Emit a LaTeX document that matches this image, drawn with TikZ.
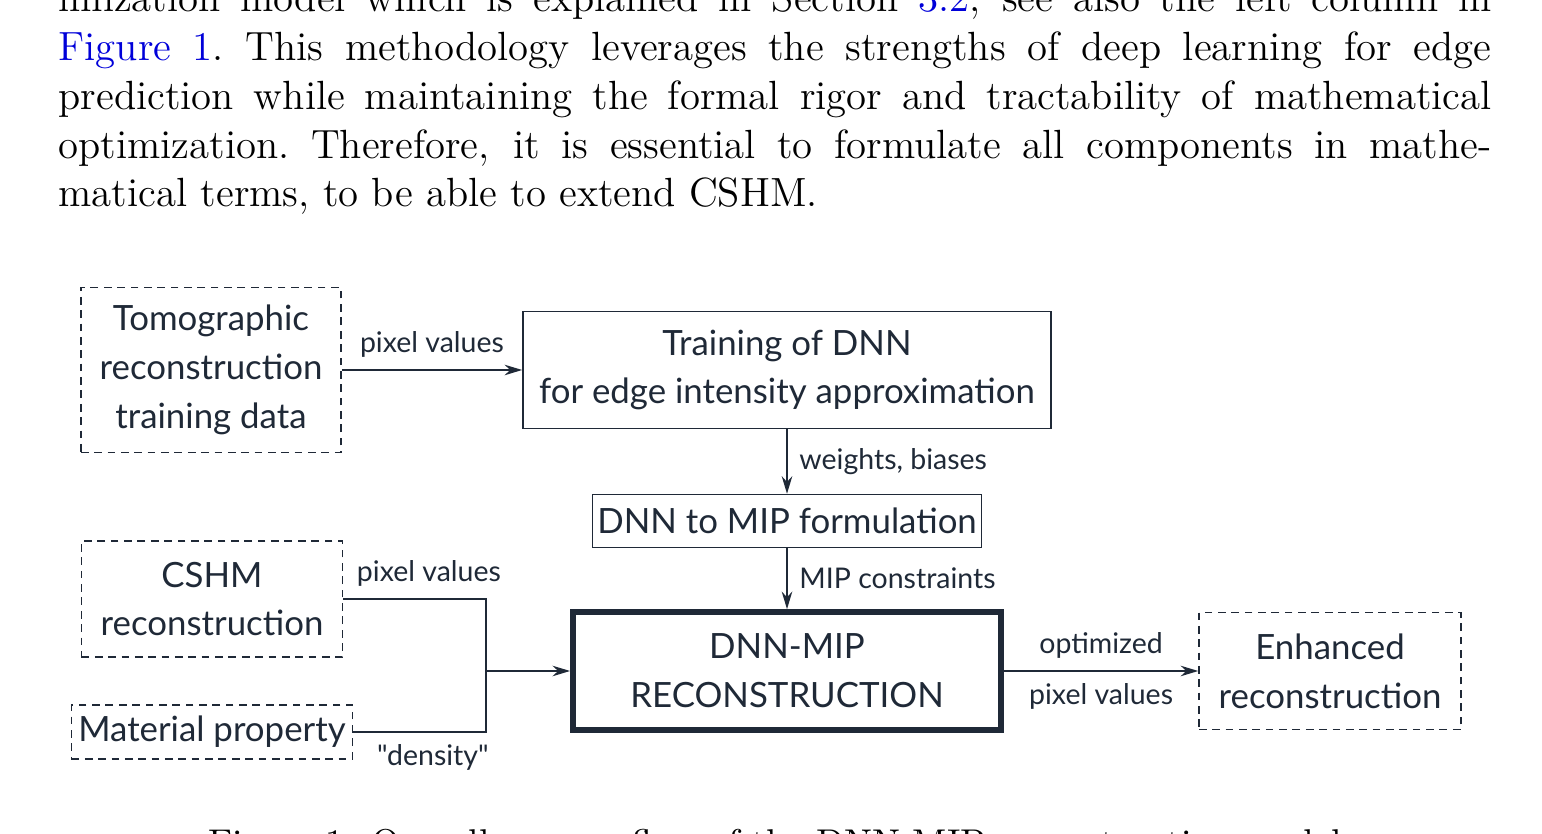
\documentclass[tikz,border=0pt]{standalone}
\usepackage{fontspec}
\newfontfamily\lato{Lato}
\usetikzlibrary{arrows.meta}
\definecolor{ink}{HTML}{1F2937}
\definecolor{linkblue}{rgb}{0,0,0.85}
\begin{document}
\begin{tikzpicture}[x=0.01cm,y=-0.01cm,
    font=\lato\fontsize{9.9}{13.9}\selectfont, text=ink,
    inbox/.style={draw=ink, dash pattern=on 2.2pt off 1.6pt, align=center, inner sep=0pt},
    box/.style={draw=ink, align=center, inner sep=0pt},
    lbl/.style={font=\lato\fontsize{8.1}{10}\selectfont},
    flow/.style={draw=ink, -{Stealth[length=5pt,width=3pt]}}]
  \useasboundingbox (0,0) rectangle (1542,834);
  \clip (0,0) rectangle (1542,834);
  % Text around the figure
  \node[anchor=north west, inner sep=0pt, text width=14.32cm, align=justify,
        font=\rmfamily\fontsize{11.6}{13.9}\selectfont, text=black] (para) at (58,-18)
    {imization model which is explained in Section \textcolor{linkblue}{3.2}, see also the left column in\linebreak
     \textcolor{linkblue}{Figure 1}.\ This methodology leverages the strengths of deep learning for edge\linebreak
     prediction while maintaining the formal rigor and tractability of mathematical\linebreak
     optimization.\ Therefore, it is essential to formulate all components in mathe-\linebreak
     matical terms, to be able to extend CSHM.};
  \node[font=\rmfamily\fontsize{10.6}{13.9}\selectfont, text=black] (cap) at (780,846)
    {Figure 1: Overall process flow of the DNN-MIP reconstruction model.};
  % Boxes
  \node[inbox, minimum width=2.60cm, minimum height=1.65cm] (tomo) at (211,370)
    {Tomographic\\reconstruction\\training data};
  \node[box, minimum width=5.28cm, minimum height=1.17cm] (train) at (787,370)
    {Training of DNN\\for edge intensity approximation};
  \node[box, minimum width=3.89cm, minimum height=0.53cm] (form) at (787,521)
    {DNN to MIP formulation};
  \node[inbox, minimum width=2.61cm, minimum height=1.16cm] (cshm) at (212,599)
    {CSHM\\reconstruction};
  \node[inbox, minimum width=2.81cm, minimum height=0.54cm] (mat) at (212,732)
    {Material property};
  \node[box, line width=1.6pt, minimum width=4.28cm, minimum height=1.18cm] (mip) at (787,671)
    {DNN-MIP\\RECONSTRUCTION};
  \node[inbox, minimum width=2.62cm, minimum height=1.17cm] (enh) at (1330,671)
    {Enhanced\\reconstruction};
  \coordinate (join) at (486,671);
  % Connectors
  \draw[flow] (tomo) -- node[above, lbl] {pixel values} (train);
  \draw[flow] (train) -- node[right, lbl] {weights, biases} (form);
  \draw[flow] (form) -- node[right, lbl] {MIP constraints} (mip);
  \draw[draw=ink] (cshm.east) -| node[pos=0.3, above, lbl] {pixel values} (join);
  \draw[draw=ink] (mat.east) -| node[pos=0.3, below, lbl] {"density"} (join);
  \draw[flow] (join) -- (mip);
  \draw[flow] (mip) -- node[above, lbl] {optimized} node[below, lbl] {pixel values} (enh);
\end{tikzpicture}
\end{document}
